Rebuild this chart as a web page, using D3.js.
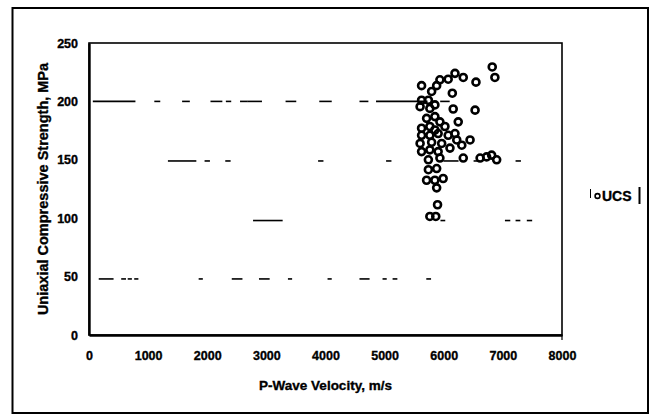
<!DOCTYPE html>
<html>
<head>
<meta charset="utf-8">
<script src="https://cdn.jsdelivr.net/npm/d3@7"></script>
<style>
  body { margin: 0; background: #fff; }
  text { font-family: "Liberation Sans", Arial, sans-serif; font-weight: bold; fill: #000; stroke: #000; stroke-width: 0.35px; }
</style>
</head>
<body>
<div id="chart"></div>
<script>
// tick values
var xTicks = [0, 1000, 2000, 3000, 4000, 5000, 6000, 7000, 8000];
var yTicks = [0, 50, 100, 150, 200, 250];

// UCS points (velocity m/s, strength MPa)
var ucsVelocity = [6820, 6865, 5625, 6190, 6330, 6545, 6075, 5935, 5880, 6145, 5795, 5625, 5740, 5600, 5765,
  5850, 6160, 6530, 5710, 5850, 5935, 6245, 5625, 5765, 5850, 6020, 5625, 5765, 5905, 6075, 6190, 6220, 6445,
  5600, 5795, 5965, 6105, 6305, 5625, 5765, 5905, 5740, 5935, 6330, 6615, 6725, 6810, 6895, 5740, 5880, 5710,
  5850, 5990, 5880, 5895, 5765, 5865];
var ucsStrength = [229.5, 220.5, 213.5, 224, 220.5, 216.5, 219, 218.5, 213.5, 207, 208.5, 201, 201, 195.5, 194,
  197, 193.5, 192.5, 185.5, 187, 182.5, 182.5, 177, 178.5, 175.5, 178.5, 171, 171, 172.5, 171, 172.5, 167, 167,
  164, 165, 164, 160, 162.5, 157, 158.5, 157, 150, 151.5, 151.5, 151.5, 152.5, 154, 150, 141.5, 142.5, 132.5,
  132.5, 134, 126, 111.5, 101.5, 101.5];

// dash marks of the second series: level and [from, to] velocity runs
var dashLevels = [200, 149, 98, 48];
var dashRuns200 = [[90, 760], [1130, 1180], [1600, 1680], [2080, 2230], [2340, 2380], [2580, 2650], [2700, 2900],
  [3350, 3480], [3920, 4080], [4600, 4700], [4880, 5700], [5965, 6075]];
var dashRuns150 = [[1360, 1790], [1980, 2020], [2330, 2370], [3900, 3940], [5050, 5090], [6020, 6225],
  [6530, 6580], [7240, 7280]];
var dashRuns100 = [[2800, 3250], [5970, 6000], [7060, 7100], [7240, 7270], [7430, 7470]];
var dashRuns50 = [[190, 390], [570, 600], [680, 700], [790, 810], [1880, 1900], [2440, 2570], [2900, 3030],
  [3390, 3410], [4060, 4080], [4600, 4720], [4990, 5010], [5160, 5190], [5730, 5760]];
var dashRuns = [dashRuns200, dashRuns150, dashRuns100, dashRuns50];

var W = 659, H = 419;
var margin = {top: 43, right: 97, bottom: 84, left: 89},
    width = W - margin.left - margin.right,
    height = H - margin.top - margin.bottom;

var svg = d3.select("#chart")
  .append("svg")
    .attr("width", W)
    .attr("height", H);

// outer frame
svg.append("rect")
  .attr("x", 12.5).attr("y", 8)
  .attr("width", 635.5).attr("height", 405)
  .attr("fill", "none")
  .attr("stroke", "#000")
  .attr("stroke-width", 2);

var g = svg.append("g")
  .attr("transform", "translate(" + margin.left + "," + margin.top + ")");

var x = d3.scaleLinear().domain([0, 8000]).range([0, width]);
var y = d3.scaleLinear().domain([0, 250]).range([height, 0]);

// plot border (top + right thin)
g.append("rect")
  .attr("x", 0).attr("y", 0)
  .attr("width", width).attr("height", height)
  .attr("fill", "none")
  .attr("stroke", "#000")
  .attr("stroke-width", 1.6);

// X axis
var xAxis = g.append("g")
  .attr("transform", "translate(0," + height + ")")
  .call(d3.axisBottom(x).tickValues(xTicks).tickSize(0).tickPadding(16).tickFormat(d3.format("d")));
xAxis.select(".domain").attr("stroke-width", 2.6);
xAxis.selectAll("text").style("font-size", "12.5px");

// Y axis
var yAxis = g.append("g")
  .call(d3.axisLeft(y).tickValues(yTicks).tickSize(0).tickPadding(11));
yAxis.select(".domain").attr("stroke-width", 2.4);
yAxis.selectAll("text").style("font-size", "12.5px");

// small tick below the right border
g.append("line")
  .attr("x1", x(8000)).attr("x2", x(8000))
  .attr("y1", height).attr("y2", height + 5)
  .attr("stroke", "#000").attr("stroke-width", 1.2);

// dash series
dashRuns.forEach(function(runs, i) {
  g.selectAll(".dash" + i)
    .data(runs)
    .enter().append("line")
      .attr("x1", function(d) { return x(d[0]) - 1.5; })
      .attr("x2", function(d) { return x(d[1]) + 1.5; })
      .attr("y1", y(dashLevels[i]))
      .attr("y2", y(dashLevels[i]))
      .attr("stroke", "#000")
      .attr("stroke-width", 1.6);
});

// UCS circles
g.selectAll(".ucs")
  .data(ucsVelocity)
  .enter().append("circle")
    .attr("cx", function(d) { return x(d); })
    .attr("cy", function(d, i) { return y(ucsStrength[i]); })
    .attr("r", 3.5)
    .attr("fill", "none")
    .attr("stroke", "#000")
    .attr("stroke-width", 2.6);

// axis titles
svg.append("text")
  .attr("x", margin.left + width / 2)
  .attr("y", 390)
  .style("text-anchor", "middle")
  .style("font-size", "13.5px")
  .text("P-Wave Velocity, m/s");

svg.append("text")
  .attr("transform", "translate(48," + (margin.top + height / 2) + ") rotate(-90)")
  .style("text-anchor", "middle")
  .style("font-size", "14.5px")
  .text("Uniaxial Compressive Strength, MPa");

// legend
var leg = svg.append("g");
leg.append("line")
  .attr("x1", 590.5).attr("x2", 590.5).attr("y1", 189).attr("y2", 198)
  .attr("stroke", "#000").attr("stroke-width", 1);
leg.append("circle")
  .attr("cx", 597.5).attr("cy", 196).attr("r", 2.4)
  .attr("fill", "none").attr("stroke", "#000").attr("stroke-width", 1.6);
leg.append("text")
  .attr("x", 602).attr("y", 201)
  .style("font-size", "14px")
  .text("UCS");
leg.append("line")
  .attr("x1", 639.5).attr("x2", 639.5).attr("y1", 187).attr("y2", 204)
  .attr("stroke", "#000").attr("stroke-width", 2);
</script>
</body>
</html>
